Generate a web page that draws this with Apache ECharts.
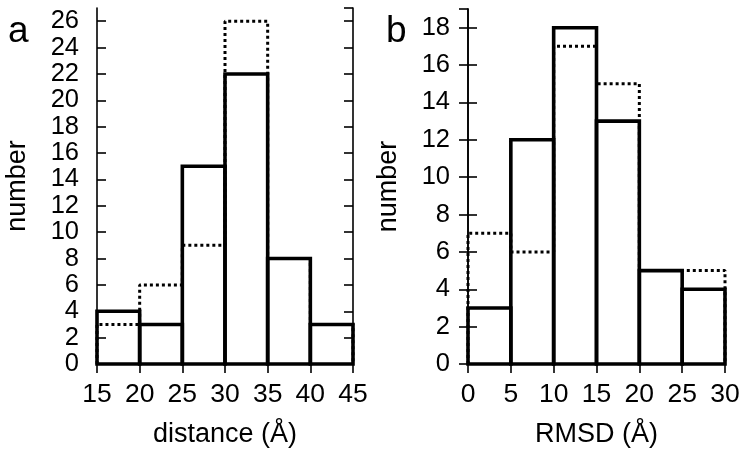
<!DOCTYPE html>
<html><head><meta charset="utf-8">
<script src="https://cdn.jsdelivr.net/npm/echarts@6/dist/echarts.min.js"></script>
<style>html,body{margin:0;padding:0;background:#fff}#c{width:750px;height:455px}</style>
</head><body><div id="c"></div>
<script>
// Panel a: distance histogram
const binEdgesA = [15, 20, 25, 30, 35, 40, 45];
const solidA = [4, 3, 15, 22, 8, 3];
const dottedA = [3, 6, 9, 26, 8, 3];
const yTicksA = { min: 0, max: 27, interval: 2 };
// Panel b: RMSD histogram
const binEdgesB = [0, 5, 10, 15, 20, 25, 30];
const solidB = [3, 12, 18, 13, 5, 4];
const dottedB = [7, 6, 17, 15, 5, 5];
const yTicksB = { min: 0, max: 19, interval: 2 };

const FONT = '"Liberation Sans", Arial, sans-serif';

function barsData(edges, vals) {
  return vals.map((v, i) => [edges[i], edges[i + 1], v]);
}
function stepData(edges, vals) {
  const d = [[edges[0], 0]];
  vals.forEach((v, i) => d.push([edges[i], v]));
  d.push([edges[edges.length - 1], vals[vals.length - 1]]);
  d.push([edges[edges.length - 1], 0]);
  return d;
}
function renderBar(params, api) {
  const p0 = api.coord([api.value(0), 0]);
  const p1 = api.coord([api.value(1), api.value(2)]);
  return {
    type: 'rect',
    shape: { x: p0[0], y: p1[1], width: p1[0] - p0[0], height: p0[1] - p1[1] },
    style: { fill: 'none', stroke: '#000', lineWidth: 3.6 }
  };
}

const line = { show: true, lineStyle: { color: '#000', width: 1.6 } };
const tick = { show: true, inside: true, length: 9, lineStyle: { color: '#000', width: 1.6 } };

function xAxes(gi, edges, name) {
  const min = edges[0], max = edges[edges.length - 1];
  return [
    { gridIndex: gi, type: 'value', min, max, interval: 5, position: 'bottom',
      axisLine: line, axisTick: { show: false }, splitLine: { show: false },
      axisLabel: { margin: 17, showMinLabel: true, showMaxLabel: true, color: '#000', fontFamily: FONT, fontSize: 26.5 },
      name, nameLocation: 'middle', nameGap: 57,
      nameTextStyle: { color: '#000', fontFamily: FONT, fontSize: 27 } },
    { gridIndex: gi, type: 'value', min, max, interval: 5, position: 'top',
      axisLine: line, axisTick: tick, axisLabel: { show: false }, splitLine: { show: false } }
  ];
}
function yAxes(gi, t) {
  const fmt = v => (v % 2 === 0 ? String(v) : '');
  return [
    { gridIndex: gi, type: 'value', min: t.min, max: t.max, interval: t.interval, position: 'left',
      axisLine: line, axisTick: tick,
      axisLabel: { margin: 18, formatter: fmt, showMaxLabel: false, color: '#000', fontFamily: FONT, fontSize: 25.5 },
      splitLine: { show: false },
      name: 'number', nameLocation: 'middle', nameGap: 66,
      nameTextStyle: { color: '#000', fontFamily: FONT, fontSize: 27 } },
    { gridIndex: gi, type: 'value', min: t.min, max: t.max, interval: t.interval, position: 'right',
      axisLine: line, axisTick: tick, axisLabel: { show: false }, splitLine: { show: false } }
  ];
}

const chart = echarts.init(document.getElementById('c'), null, { renderer: 'canvas' });
chart.setOption({
  backgroundColor: '#fff',
  animation: false,
  title: [
    { text: 'a', left: 3, top: 8, textStyle: { fontFamily: FONT, fontSize: 37, fontWeight: 'normal', color: '#000' } },
    { text: 'b', left: 381, top: 8, textStyle: { fontFamily: FONT, fontSize: 37, fontWeight: 'normal', color: '#000' } }
  ],
  grid: [
    { left: 97, right: 397, top: 8, bottom: 91 },
    { left: 468, right: 25, top: 9, bottom: 91 }
  ],
  xAxis: [...xAxes(0, binEdgesA, 'distance (Å)'), ...xAxes(1, binEdgesB, 'RMSD (Å)')],
  yAxis: [...yAxes(0, yTicksA), ...yAxes(1, yTicksB)],
  series: [
    { type: 'line', xAxisIndex: 0, yAxisIndex: 0, step: 'end', symbol: 'none', z: 2,
      lineStyle: { color: '#000', width: 3, type: [3, 3] }, data: stepData(binEdgesA, dottedA) },
    { type: 'custom', xAxisIndex: 0, yAxisIndex: 0, z: 3, renderItem: renderBar,
      encode: { x: [0, 1], y: 2 }, data: barsData(binEdgesA, solidA) },
    { type: 'line', xAxisIndex: 2, yAxisIndex: 2, step: 'end', symbol: 'none', z: 2,
      lineStyle: { color: '#000', width: 3, type: [3, 3] }, data: stepData(binEdgesB, dottedB) },
    { type: 'custom', xAxisIndex: 2, yAxisIndex: 2, z: 3, renderItem: renderBar,
      encode: { x: [0, 1], y: 2 }, data: barsData(binEdgesB, solidB) }
  ]
});
</script></body></html>
